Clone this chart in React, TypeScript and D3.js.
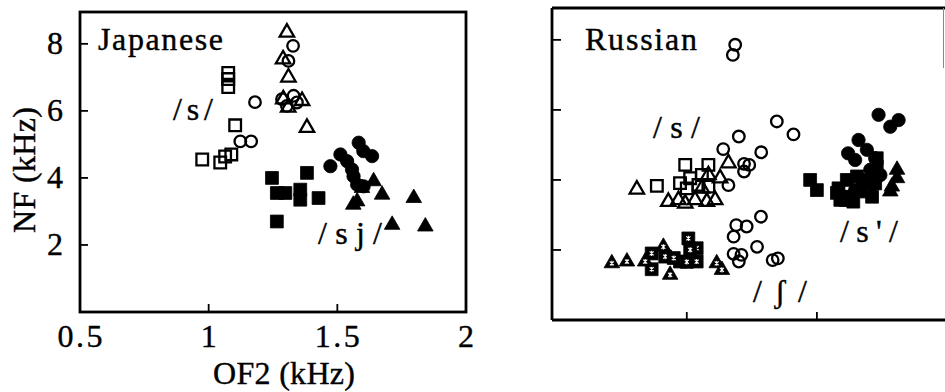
import React from 'react';
import * as d3 from 'd3';

// [OF2 (kHz), NF (kHz)] pairs
const jaOpenSquare = [[1.076, 7.13], [1.076, 6.95], [1.076, 6.71], [1.103, 5.57], [0.975, 4.55], [1.045, 4.46], [1.064, 4.64], [1.088, 4.7]];
const jaOpenCircle = [[1.18, 6.26], [1.123, 5.09], [1.165, 5.09], [1.328, 7.94], [1.31, 7.49], [1.33, 6.45], [1.285, 6.35], [1.343, 6.25], [1.304, 6.15]];
const jaOpenTriangle = [[1.304, 8.34], [1.289, 7.54], [1.31, 7.0], [1.382, 5.5], [1.29, 6.35], [1.309, 6.1], [1.363, 6.3]];
const jaFilledSquare = [[1.246, 4.0], [1.382, 4.15], [1.265, 3.55], [1.298, 3.55], [1.356, 3.65], [1.356, 3.35], [1.427, 3.4], [1.265, 2.7]];
const jaFilledCircle = [[1.583, 5.05], [1.601, 4.8], [1.635, 4.65], [1.512, 4.7], [1.538, 4.5], [1.473, 4.35], [1.557, 4.25], [1.563, 4.05], [1.577, 3.8], [1.602, 3.75]];
const jaFilledTriangle = [[1.641, 3.9], [1.674, 3.5], [1.797, 3.4], [1.577, 3.3], [1.562, 3.2], [1.713, 2.6], [1.842, 2.55], [1.596, 3.7]];

const ruOpenCircle = [[1.186, 7.86], [1.177, 7.57], [1.346, 5.67], [1.41, 5.3], [1.2, 5.24], [1.14, 4.88], [1.286, 4.79], [1.22, 4.46], [1.24, 4.43], [1.22, 4.24], [1.16, 3.85],
  [1.285, 2.95], [1.19, 2.71], [1.23, 2.67], [1.18, 2.38], [1.27, 2.09], [1.18, 1.89], [1.21, 1.86], [1.2, 1.67], [1.33, 1.71], [1.35, 1.76]];
const ruOpenSquare = [[0.994, 4.43], [1.083, 4.43], [0.885, 3.83], [0.974, 3.91], [1.013, 4.05], [1.058, 4.14], [1.083, 3.81], [1.0, 3.76], [1.045, 3.86]];
const ruOpenTriangle = [[0.808, 3.73], [1.16, 4.48], [1.128, 4.05], [0.929, 3.38], [0.968, 3.43], [0.994, 3.33], [1.032, 3.43], [1.077, 3.38], [1.109, 3.43], [1.083, 4.14], [1.058, 3.76]];
const ruDotSquare = [[0.865, 1.9], [0.917, 1.81], [0.865, 1.45], [0.974, 1.67], [1.006, 2.33], [1.038, 2.05], [1.038, 1.67], [0.95, 1.77], [1.0, 1.66], [1.013, 2.0]];
const ruDotTriangle = [[0.712, 1.62], [0.77, 1.67], [0.84, 1.67], [0.91, 2.09], [0.936, 1.29], [1.115, 1.62], [1.135, 1.43]];
const ruFilledCircle = [[1.737, 5.86], [1.814, 5.71], [1.782, 5.52], [1.66, 5.14], [1.62, 4.76], [1.647, 4.57], [1.692, 4.86], [1.724, 4.62], [1.705, 4.29], [1.674, 4.0], [1.713, 3.86], [1.744, 4.14], [1.647, 3.71], [1.61, 3.51]];
const ruFilledSquare = [[1.474, 4.0], [1.5, 3.71], [1.583, 3.76], [1.59, 3.43], [1.628, 3.52], [1.667, 3.67], [1.712, 3.52], [1.724, 3.9], [1.73, 4.38], [1.73, 4.62], [1.712, 4.19], [1.654, 4.1], [1.615, 4.0], [1.692, 3.9], [1.64, 3.38], [1.61, 3.43], [1.577, 3.63]];
const ruFilledTriangle = [[1.808, 4.29], [1.808, 4.05], [1.788, 3.81], [1.782, 3.67]];

const yTicks = [2, 4, 6, 8];
const xTicks = [1, 1.5];
const xTickLabels = ['0.5', '1', '1.5', '2'];

const FONT = '"Liberation Serif", "DejaVu Serif", serif';
const TXT = { fontFamily: FONT, fontSize: 32, stroke: '#000', strokeWidth: 0.4 };

const sq = d3.symbol(d3.symbolSquare, 135)();
const sqFill = d3.symbol(d3.symbolSquare, 165)();
const circ = d3.symbol(d3.symbolCircle, 105)();
const circFill = d3.symbol(d3.symbolCircle, 140)();
const tri = d3.symbol(d3.symbolTriangle, 90)();
const triFill = d3.symbol(d3.symbolTriangle, 105)();

const Marks = ({ data, x, y, path, filled, dot }) => (
  <g>
    {data.map((d, i) => (
      <g key={i} transform={`translate(${x(d[0])},${y(d[1])})`}>
        <path d={path} fill={filled ? '#000' : 'none'} stroke="#000" strokeWidth={filled ? 0.8 : 2.3} />
        {dot && <path d="M-2,-2L2,2M-2,2L2,-2M0,-2.6V2.6" stroke="#fff" strokeWidth={1.1} />}
      </g>
    ))}
  </g>
);

const Label = ({ x, y, w, children }) => (
  <text x={x} y={y} style={TXT} textLength={w} lengthAdjust="spacing">{children}</text>
);

export default function App() {
  const xJa = d3.scaleLinear().domain([0.5, 2]).range([80, 466]);
  const yJa = d3.scaleLinear().domain([0, 8.95]).range([312, 12]);
  const xRu = d3.scaleLinear().domain([0.482, 2]).range([552, 947]);
  const yRu = d3.scaleLinear().domain([0, 8.91]).range([320, 8]);

  return (
    <svg width={945} height={392} style={{ position: 'absolute', left: 0, top: 0, background: '#fff' }}>
      {/* Japanese panel */}
      <rect x={80} y={12} width={386} height={300} fill="none" stroke="#000" strokeWidth={2.8} />
      {yTicks.map(t => (
        <g key={t}>
          <line x1={80} x2={88} y1={yJa(t)} y2={yJa(t)} stroke="#000" strokeWidth={1.8} />
          <text x={63} y={yJa(t) + 10} textAnchor="end" style={TXT}>{t}</text>
        </g>
      ))}
      {xTicks.map(t => (
        <line key={t} x1={xJa(t)} x2={xJa(t)} y1={312} y2={304} stroke="#000" strokeWidth={1.8} />
      ))}
      {xTickLabels.map(t => (
        <text key={t} x={xJa(+t)} y={347} textAnchor="middle" style={TXT}
          textLength={t.length * 15} lengthAdjust="spacing">{t}</text>
      ))}
      <text x={284} y={384} textAnchor="middle" style={TXT} textLength={142} lengthAdjust="spacing">OF2 (kHz)</text>
      <text transform="translate(35,170) rotate(-90)" textAnchor="middle" style={TXT} textLength={126} lengthAdjust="spacing">NF (kHz)</text>
      <Label x={98} y={50} w={125}>Japanese</Label>
      <Label x={173} y={120} w={40}>/s/</Label>
      <Label x={318} y={244} w={64}>/sj/</Label>

      <Marks data={jaOpenSquare} x={xJa} y={yJa} path={sq} />
      <Marks data={jaOpenCircle} x={xJa} y={yJa} path={circ} />
      <Marks data={jaOpenTriangle} x={xJa} y={yJa} path={tri} />
      <Marks data={jaFilledSquare} x={xJa} y={yJa} path={sqFill} filled />
      <Marks data={jaFilledCircle} x={xJa} y={yJa} path={circFill} filled />
      <Marks data={jaFilledTriangle} x={xJa} y={yJa} path={triFill} filled />

      {/* Russian panel */}
      <line x1={552} x2={552} y1={8} y2={320} stroke="#000" strokeWidth={2.8} />
      <line x1={552} x2={945} y1={8} y2={8} stroke="#000" strokeWidth={2.8} />
      <line x1={552} x2={945} y1={320} y2={320} stroke="#000" strokeWidth={2.8} />
      <line x1={943.5} x2={943.5} y1={8} y2={68} stroke="#888" strokeWidth={1} />
      {yTicks.map(t => (
        <line key={t} x1={552} x2={561} y1={yRu(t)} y2={yRu(t)} stroke="#000" strokeWidth={1.8} />
      ))}
      {xTicks.map(t => (
        <line key={t} x1={xRu(t)} x2={xRu(t)} y1={320} y2={312} stroke="#000" strokeWidth={1.8} />
      ))}
      <Label x={585} y={50} w={112}>Russian</Label>
      <Label x={653} y={138} w={47}>/s/</Label>
      <Label x={840} y={242} w={58}>/s'/</Label>
      <Label x={753} y={302} w={54}>/ʃ/</Label>

      <Marks data={ruOpenCircle} x={xRu} y={yRu} path={circ} />
      <Marks data={ruOpenSquare} x={xRu} y={yRu} path={sq} />
      <Marks data={ruOpenTriangle} x={xRu} y={yRu} path={tri} />
      <Marks data={ruDotSquare} x={xRu} y={yRu} path={sqFill} filled dot />
      <Marks data={ruDotTriangle} x={xRu} y={yRu} path={triFill} filled dot />
      <Marks data={ruFilledCircle} x={xRu} y={yRu} path={circFill} filled />
      <Marks data={ruFilledSquare} x={xRu} y={yRu} path={sqFill} filled />
      <Marks data={ruFilledTriangle} x={xRu} y={yRu} path={triFill} filled />
    </svg>
  );
}
